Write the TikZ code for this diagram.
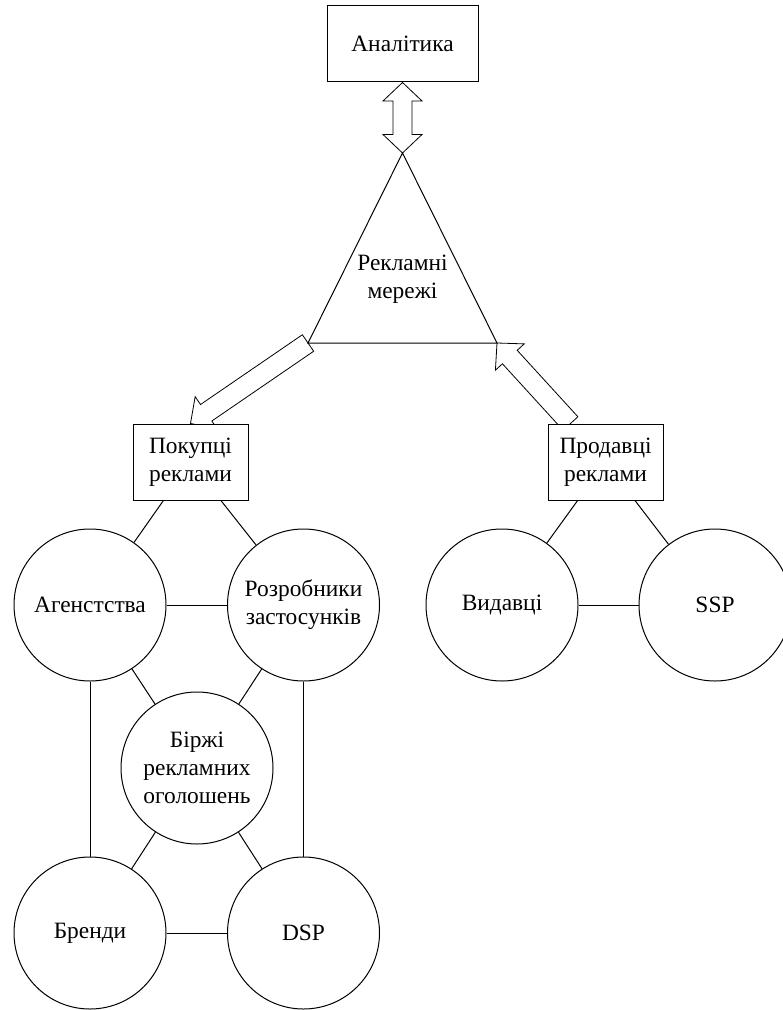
\documentclass[tikz,border=0pt]{standalone}
\usepackage{fontspec}
\setmainfont{Liberation Serif}
\usetikzlibrary{positioning,calc,backgrounds}

% hollow block arrow, tip at #2
\newcommand{\onearrow}[2]{%
  \coordinate (hd) at ($(#2)!9.5pt!(#1)$);
  \draw[hollow] ($(#1)!5pt!-90:(#2)$) -- ($(hd)!5pt!90:(#1)$) -- ($(hd)!9.75pt!90:(#1)$)
    -- (#2) -- ($(hd)!9.75pt!-90:(#1)$) -- ($(hd)!5pt!-90:(#1)$) -- ($(#1)!5pt!90:(#2)$) -- cycle;}
% hollow block arrow, tips at both ends
\newcommand{\twoarrow}[2]{%
  \coordinate (ha) at ($(#1)!9.25pt!(#2)$);
  \coordinate (hb) at ($(#2)!9.25pt!(#1)$);
  \draw[hollow] (#1) -- ($(ha)!9.75pt!90:(#2)$) -- ($(ha)!4.75pt!90:(#2)$) -- ($(hb)!4.75pt!-90:(#1)$)
    -- ($(hb)!9.75pt!-90:(#1)$) -- (#2) -- ($(hb)!9.75pt!90:(#1)$) -- ($(hb)!4.75pt!90:(#1)$)
    -- ($(ha)!4.75pt!-90:(#2)$) -- ($(ha)!9.75pt!-90:(#2)$) -- cycle;}

\begin{document}
\begin{tikzpicture}[x=0.5pt, y=-0.5pt, on grid, line width=0.5pt,
  every node/.style={align=center, font=\fontsize{11.7}{14}\selectfont},
  box/.style={draw, fill=white, minimum height=38pt},
  circ/.style={draw, circle, fill=white, minimum size=76pt, inner sep=0pt},
  hollow/.style={draw, fill=white, line join=miter}]
\useasboundingbox (0,0) rectangle (782,1010);

\node (an) [box, minimum width=75.5pt] at (402.5,44) {Аналітика};
\coordinate (top) at (402.5,153);
\coordinate (cl) at (308,343);
\coordinate (cr) at (497,343);
\node (net) at (402.5,279) {Рекламні\\мережі};
\draw (top) -- (cl) -- (cr) -- cycle;

\node (buy) [box, minimum width=57.5pt] at (190.5,462) {Покупці\\реклами};
\node (sell) [box, minimum width=57.5pt] at (605.5,462) {Продавці\\реклами};
\coordinate (sellout) at ($(sell.north west)+(23,0)$);

\node (ag) [circ] at (90,605) {Агенстства};
\node (dev) [circ, right=106.75pt of ag] {Розробники\\застосунків};
\node (exch) [circ, below right=81.5pt and 53.5pt of ag] {Біржі\\рекламних\\оголошень};
\node (brand) [circ, below=164pt of ag] {Бренди};
\node (dsp) [circ, right=106.75pt of brand] {DSP};
\node (pub) [circ] at (502,605) {Видавці};
\node (ssp) [circ, right=106.5pt of pub] {SSP};

\foreach \a/\b in {buy/ag, buy/dev, ag/dev, ag/exch, dev/exch, ag/brand, dev/dsp,
  exch/brand, exch/dsp, brand/dsp, sell/pub, sell/ssp, pub/ssp}
  \draw (\a) -- (\b);

\begin{scope}[on background layer]
\twoarrow{an.south}{top}
\onearrow{cl}{buy.north}
\onearrow{sellout}{cr}
\end{scope}
\end{tikzpicture}
\end{document}
